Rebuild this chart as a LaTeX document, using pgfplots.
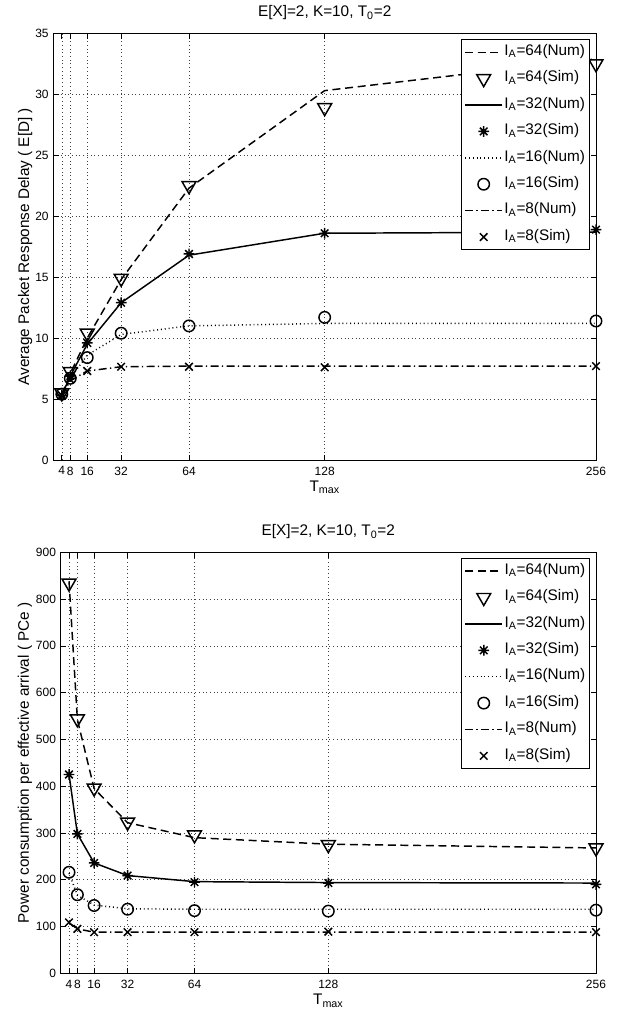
\documentclass[border=0pt]{standalone}
\usepackage{pgfplots}
\pgfplotsset{compat=1.18}
\usepackage{fontspec}
\setmainfont{Liberation Sans}

\pgfdeclareplotmark{mstar}{%
  \pgfpathmoveto{\pgfqpoint{-\pgfplotmarksize}{0pt}}\pgfpathlineto{\pgfqpoint{\pgfplotmarksize}{0pt}}%
  \pgfpathmoveto{\pgfqpoint{0pt}{-\pgfplotmarksize}}\pgfpathlineto{\pgfqpoint{0pt}{\pgfplotmarksize}}%
  \pgfpathmoveto{\pgfqpoint{-.7071\pgfplotmarksize}{-.7071\pgfplotmarksize}}\pgfpathlineto{\pgfqpoint{.7071\pgfplotmarksize}{.7071\pgfplotmarksize}}%
  \pgfpathmoveto{\pgfqpoint{-.7071\pgfplotmarksize}{.7071\pgfplotmarksize}}\pgfpathlineto{\pgfqpoint{.7071\pgfplotmarksize}{-.7071\pgfplotmarksize}}%
  \pgfusepathqstroke}

\pgfplotsset{
  mfig/.style={
    scale only axis,
    xmin=0, xmax=256,
    xtick={4,8,16,32,64,128,256},
    grid=major,
    major grid style={black!75, line width=0.4pt, dash pattern=on 0.6pt off 2.2pt},
    tick align=inside, major tick length=4pt,
    every tick/.style={black, line width=0.5pt},
    axis line style={line width=0.7pt},
    /pgf/number format/assume math mode=true,
    ticklabel style={font=\fontsize{9}{11}\selectfont},
    xticklabel style={yshift=-1.5pt},
    label style={font=\fontsize{11.5}{13}\selectfont},
    every axis title shift=0pt,
    title style={font=\fontsize{11.5}{13}\selectfont, at={(axis description cs:0.5,1)}, anchor=base, yshift=12.5pt},
    xlabel style={at={(axis description cs:0.5,0)}, anchor=north, yshift=-15.5pt, inner sep=0pt},
    xlabel={T\textsubscript{max}},
    title={E[X]=2, K=10, T\textsubscript{0}=2},
    clip=false,
    legend cell align=left,
    legend style={at={(0.988,0.986)}, anchor=north east, draw=black, line width=0.6pt, fill=white,
      font=\fontsize{11.5}{13}\selectfont, inner xsep=2pt, inner ysep=2pt, row sep=5pt,
      nodes={inner sep=1pt, text height=8.8pt, text depth=4pt}},
    legend image code/.code={\draw[mark repeat=2,mark phase=2,#1] plot coordinates {(0pt,0pt) (14pt,0pt) (28pt,0pt)};},
  },
  num/.style={line width=1.1pt, no markers},
  sim/.style={only marks, line width=1.1pt},
  d64/.style={dash pattern=on 6pt off 3.5pt},
  d16/.style={dash pattern=on 0.7pt off 2.2pt},
  d8/.style={dash pattern=on 6pt off 2.5pt on 1pt off 2.5pt},
  m64/.style={mark=triangle, mark size=6pt, mark options={rotate=180, solid}},
  m32/.style={mark=mstar, mark size=4pt, mark options={solid}},
  m16/.style={mark=o, mark size=4.3pt, mark options={solid}},
  m8/.style={mark=x, mark size=4pt, mark options={solid}},
}

\begin{document}
\begin{tikzpicture}
\path[use as bounding box] (0,0) rectangle (476.25pt,762pt);

\begin{axis}[mfig, at={(40pt,417pt)}, anchor=south west, width=407pt, height=320pt,
  ymin=0, ymax=35, ytick={0,5,...,35},
  ylabel style={at={(axis description cs:-0.052,0.5)}, anchor=center},
  ylabel={Average Packet Response Delay ( E[D] )}]
\addplot[num,d64] coordinates {(4,5.4) (8,7.1) (16,10.0) (32,14.8) (64,22.3) (128,30.3) (256,32.9)};
\addlegendentry{I\textsubscript{A}=64(Num)}
\addplot[sim,m64] coordinates {(4,5.5) (8,7.25) (16,10.4) (32,14.9) (64,22.5) (128,28.9) (256,32.5)};
\addlegendentry{I\textsubscript{A}=64(Sim)}
\addplot[num] coordinates {(4,5.3) (8,6.9) (16,9.5) (32,12.9) (64,16.8) (128,18.6) (256,18.7)};
\addlegendentry{I\textsubscript{A}=32(Num)}
\addplot[sim,m32] coordinates {(4,5.3) (8,6.9) (16,9.6) (32,12.9) (64,16.9) (128,18.6) (256,18.9)};
\addlegendentry{I\textsubscript{A}=32(Sim)}
\addplot[num,d16] coordinates {(4,5.3) (8,6.7) (16,8.6) (32,10.3) (64,11.0) (128,11.2) (256,11.2)};
\addlegendentry{I\textsubscript{A}=16(Num)}
\addplot[sim,m16] coordinates {(4,5.4) (8,6.7) (16,8.4) (32,10.4) (64,11.0) (128,11.7) (256,11.4)};
\addlegendentry{I\textsubscript{A}=16(Sim)}
\addplot[num,d8] coordinates {(4,5.3) (8,6.5) (16,7.3) (32,7.65) (64,7.7) (128,7.7) (256,7.7)};
\addlegendentry{I\textsubscript{A}=8(Num)}
\addplot[sim,m8] coordinates {(4,5.3) (8,6.6) (16,7.3) (32,7.65) (64,7.65) (128,7.6) (256,7.7)};
\addlegendentry{I\textsubscript{A}=8(Sim)}
\end{axis}

\begin{axis}[mfig, at={(45.5pt,32pt)}, anchor=south west, width=401.5pt, height=315.8pt,
  ymin=0, ymax=900, ytick={0,100,...,900},
  ylabel style={at={(axis description cs:-0.0666,0.5)}, anchor=center},
  ylabel={Power consumption per effective arrival ( PCe )}]
\addplot[num,d64] coordinates {(4,838) (8,542) (16,395) (32,322) (64,290) (128,276) (256,268)};
\addlegendentry{I\textsubscript{A}=64(Num)}
\addplot[sim,m64] coordinates {(4,834) (8,544) (16,396) (32,323) (64,296) (128,275) (256,268)};
\addlegendentry{I\textsubscript{A}=64(Sim)}
\addplot[num] coordinates {(4,425) (8,298) (16,236) (32,209) (64,196) (128,194) (256,193)};
\addlegendentry{I\textsubscript{A}=32(Num)}
\addplot[sim,m32] coordinates {(4,425) (8,298) (16,236) (32,209) (64,195) (128,193) (256,190)};
\addlegendentry{I\textsubscript{A}=32(Sim)}
\addplot[num,d16] coordinates {(4,214) (8,167) (16,146) (32,138) (64,137) (128,137) (256,137)};
\addlegendentry{I\textsubscript{A}=16(Num)}
\addplot[sim,m16] coordinates {(4,216) (8,168) (16,145) (32,137) (64,134) (128,133) (256,135)};
\addlegendentry{I\textsubscript{A}=16(Sim)}
\addplot[num,d8] coordinates {(4,108) (8,95) (16,88) (32,88) (64,88) (128,88) (256,88)};
\addlegendentry{I\textsubscript{A}=8(Num)}
\addplot[sim,m8] coordinates {(4,109) (8,95) (16,88) (32,88) (64,88) (128,89) (256,88)};
\addlegendentry{I\textsubscript{A}=8(Sim)}
\end{axis}
\end{tikzpicture}
\end{document}
